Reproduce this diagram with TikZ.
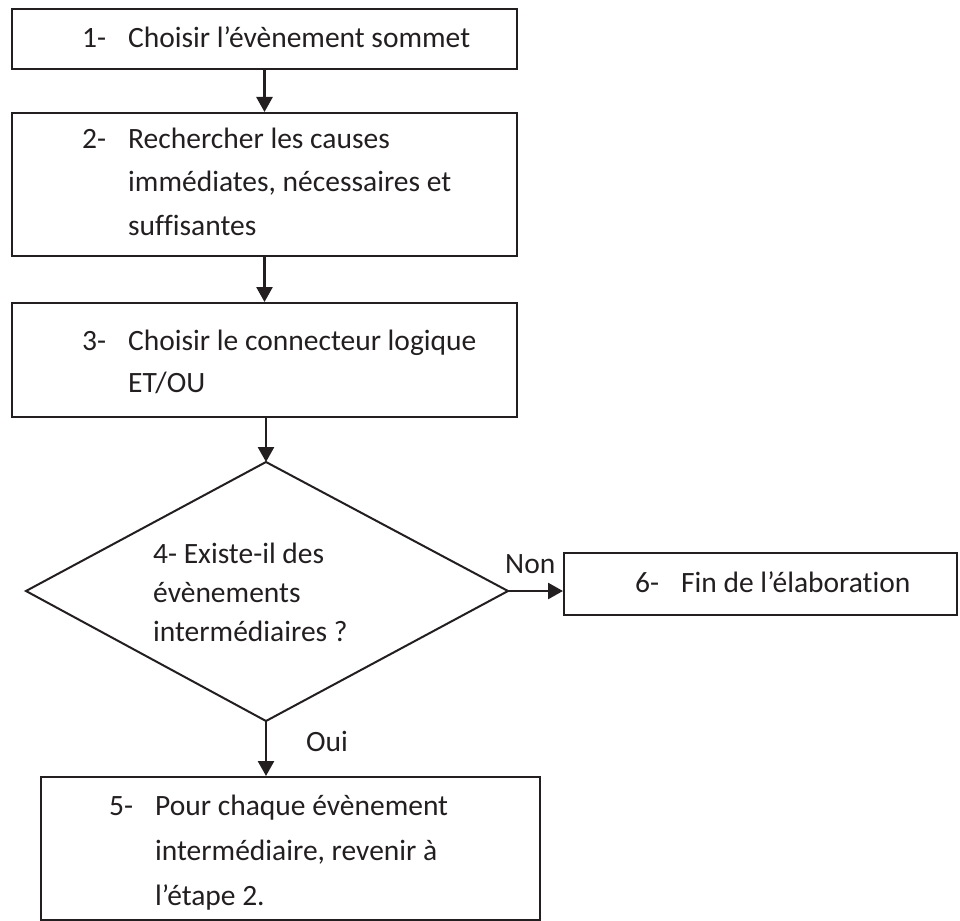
\documentclass[tikz,border=0pt]{standalone}
\usepackage{fontspec}
\setmainfont{Carlito}[Ligatures={NoCommon}]
\usetikzlibrary{arrows.meta}
\definecolor{ink}{RGB}{35,31,32}
\newcommand{\numlab}[1]{\makebox[46pt][l]{#1}}
\begin{document}
\begin{tikzpicture}[x=1pt,y=-1pt,
  box/.style={draw=ink, line width=2pt, rectangle, inner sep=0pt, anchor=north west},
  txt/.style={inner sep=0pt, anchor=base west, text=ink, font=\fontsize{29.5pt}{35pt}\selectfont},
  arr/.style={draw=ink, line width=2.6pt, -{Triangle[length=15pt,width=16pt]}},
  edgeline/.style={draw=ink, line width=2pt, line join=miter}]
\useasboundingbox (0,0) rectangle (960,920);
% boxes
\node[box, minimum width=505pt, minimum height=60pt]  (b1) at (11,8) {};
\node[box, minimum width=505pt, minimum height=143pt] (b2) at (11,112) {};
\node[box, minimum width=505pt, minimum height=114pt] (b3) at (11,302) {};
\node[box, minimum width=393pt, minimum height=62pt]  (b6) at (563,552) {};
\node[box, minimum width=499pt, minimum height=143pt] (b5) at (40,776) {};
% decision diamond
\coordinate (dN) at (266,462);
\coordinate (dE) at (508,591);
\coordinate (dS) at (266,721);
\coordinate (dW) at (26,591);
\draw[edgeline] (dN) -- (dE) -- (dS) -- (dW) -- cycle;
% texts
\node[txt] (t1)  at (82,48)   {\numlab{1-}Choisir l’évènement sommet};
\node[txt] (t2a) at (82,149)  {\numlab{2-}Rechercher les causes};
\node[txt] (t2b) at (128,192) {immédiates, nécessaires et};
\node[txt] (t2c) at (128,235) {suffisantes};
\node[txt] (t3a) at (82,350)  {\numlab{3-}Choisir le connecteur logique};
\node[txt] (t3b) at (128,392) {ET/OU};
\node[txt] (t4a) at (153,563) {4- Existe-il des};
\node[txt] (t4b) at (153,602) {évènements};
\node[txt] (t4c) at (153,641) {intermédiaires ?};
\node[txt] (t6)  at (635,592) {\numlab{6-}Fin de l’élaboration};
\node[txt] (t5a) at (109,815) {\numlab{5-}Pour chaque évènement};
\node[txt] (t5b) at (155,860) {intermédiaire, revenir à};
\node[txt] (t5c) at (155,905) {l’étape 2.};
\node[txt] (non) at (505,573) {Non};
\node[txt] (oui) at (306,751) {Oui};
% connectors
\draw[arr] (b1.south) -- (b2.north);
\draw[arr] (b2.south) -- (b3.north);
\draw[arr] (b3.south -| dN) -- (dN);
\draw[arr] (dE) -- (dE -| b6.west);
\draw[arr] (dS) -- (dS |- b5.north);
\end{tikzpicture}
\end{document}
